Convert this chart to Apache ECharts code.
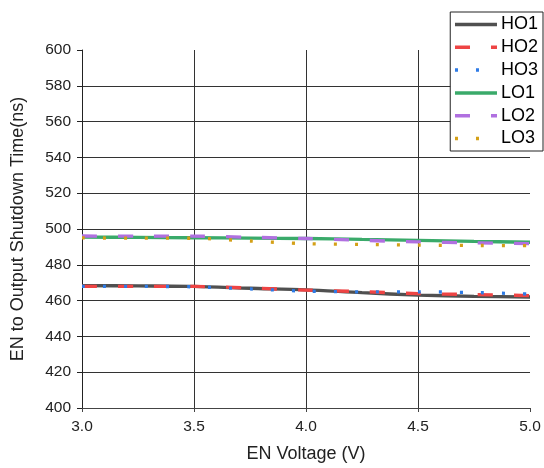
<!DOCTYPE html>
<html>
<head>
<meta charset="utf-8">
<script src="https://cdn.jsdelivr.net/npm/echarts@6/dist/echarts.min.js"></script>
<style>html,body{margin:0;padding:0;background:#fff;}#c{width:544px;height:468px;}</style>
</head>
<body>
<div id="c"></div>
<script>
const voltage = [3.0, 3.25, 3.5, 3.75, 4.0, 4.25, 4.5, 4.75, 5.0];
const HO1 = [468.4, 468.2, 467.9, 466.9, 466.0, 464.4, 463.1, 462.4, 462.0];
const HO2 = [467.9, 467.9, 467.9, 467.0, 465.9, 465.0, 463.9, 463.4, 462.8];
const HO3 = [467.9, 467.9, 467.7, 466.5, 465.3, 464.9, 464.9, 464.5, 463.7];
const LO1 = [495.5, 495.3, 495.1, 494.9, 494.7, 494.2, 493.7, 493.1, 492.6];
const LO2 = [496.1, 496.0, 496.0, 495.4, 494.7, 493.7, 492.8, 492.3, 491.8];
const LO3 = [495.0, 494.9, 494.8, 493.3, 491.8, 491.4, 491.0, 490.8, 490.7];
const seriesNames = ['HO1', 'HO2', 'HO3', 'LO1', 'LO2', 'LO3'];
const seriesData = [HO1, HO2, HO3, LO1, LO2, LO3];
const xTicks = [3.0, 3.5, 4.0, 4.5, 5.0];
const yTicks = [400, 420, 440, 460, 480, 500, 520, 540, 560, 580, 600];

const styles = [
  {color: '#505050', type: 'solid', width: 3.3},
  {color: '#ee4444', type: [15, 21], width: 3.3},
  {color: '#2e7be6', type: [3, 18], width: 3.3},
  {color: '#3aaa6a', type: 'solid', width: 3.3},
  {color: '#b070e0', type: [15, 21], width: 3.3},
  {color: '#d4a017', type: [3, 18], width: 3.3}
];

const font = 'Liberation Sans, Arial, sans-serif';
const chart = echarts.init(document.getElementById('c'));
chart.setOption({
  animation: false,
  backgroundColor: '#fff',
  grid: {left: 82, right: 14, top: 50, bottom: 59, containLabel: false},
  legend: {
    orient: 'vertical', right: 1, top: 12,
    backgroundColor: '#fff', borderColor: '#222', borderWidth: 1,
    padding: [3.5, 5, 3.5, 3], itemGap: 4.8, itemWidth: 42, itemHeight: 14,
    itemStyle: {opacity: 0},
    lineStyle: {width: 3.5},
    textStyle: {fontFamily: font, fontSize: 18, color: '#000', lineHeight: 18, padding: [0, 0, 0, -1]},
    data: seriesNames
  },
  xAxis: {
    type: 'value', min: xTicks[0], max: xTicks[xTicks.length - 1], interval: 0.5,
    name: 'EN Voltage (V)', nameLocation: 'middle', nameGap: 37,
    nameTextStyle: {fontFamily: font, fontSize: 18, color: '#222'},
    axisLine: {show: true, onZero: false, lineStyle: {color: '#444', width: 1}},
    axisTick: {show: true, length: 4, lineStyle: {color: '#444'}},
    axisLabel: {fontFamily: font, fontSize: 15.5, color: '#222', margin: 11,
      formatter: v => v.toFixed(1)},
    splitLine: {show: true, showMinLine: false, showMaxLine: false, lineStyle: {color: '#333', width: 1}}
  },
  yAxis: {
    type: 'value', min: yTicks[0], max: yTicks[yTicks.length - 1], interval: 20,
    name: 'EN to Output Shutdown Time(ns)', nameLocation: 'middle', nameGap: 55,
    nameTextStyle: {fontFamily: font, fontSize: 18, color: '#222'},
    axisLine: {show: true, onZero: false, lineStyle: {color: '#222', width: 1}},
    axisTick: {show: true, length: 5, lineStyle: {color: '#222'}},
    axisLabel: {fontFamily: font, fontSize: 15.5, color: '#222', margin: 11},
    splitLine: {show: true, showMinLine: false, showMaxLine: false, lineStyle: {color: '#333', width: 1}}
  },
  series: seriesNames.map((n, i) => ({
    name: n, type: 'line', symbol: 'none', smooth: 0.3,
    data: voltage.map((v, j) => [v, seriesData[i][j]]),
    lineStyle: styles[i], itemStyle: {color: styles[i].color},
    emphasis: {disabled: true}
  }))
});
</script>
</body>
</html>
